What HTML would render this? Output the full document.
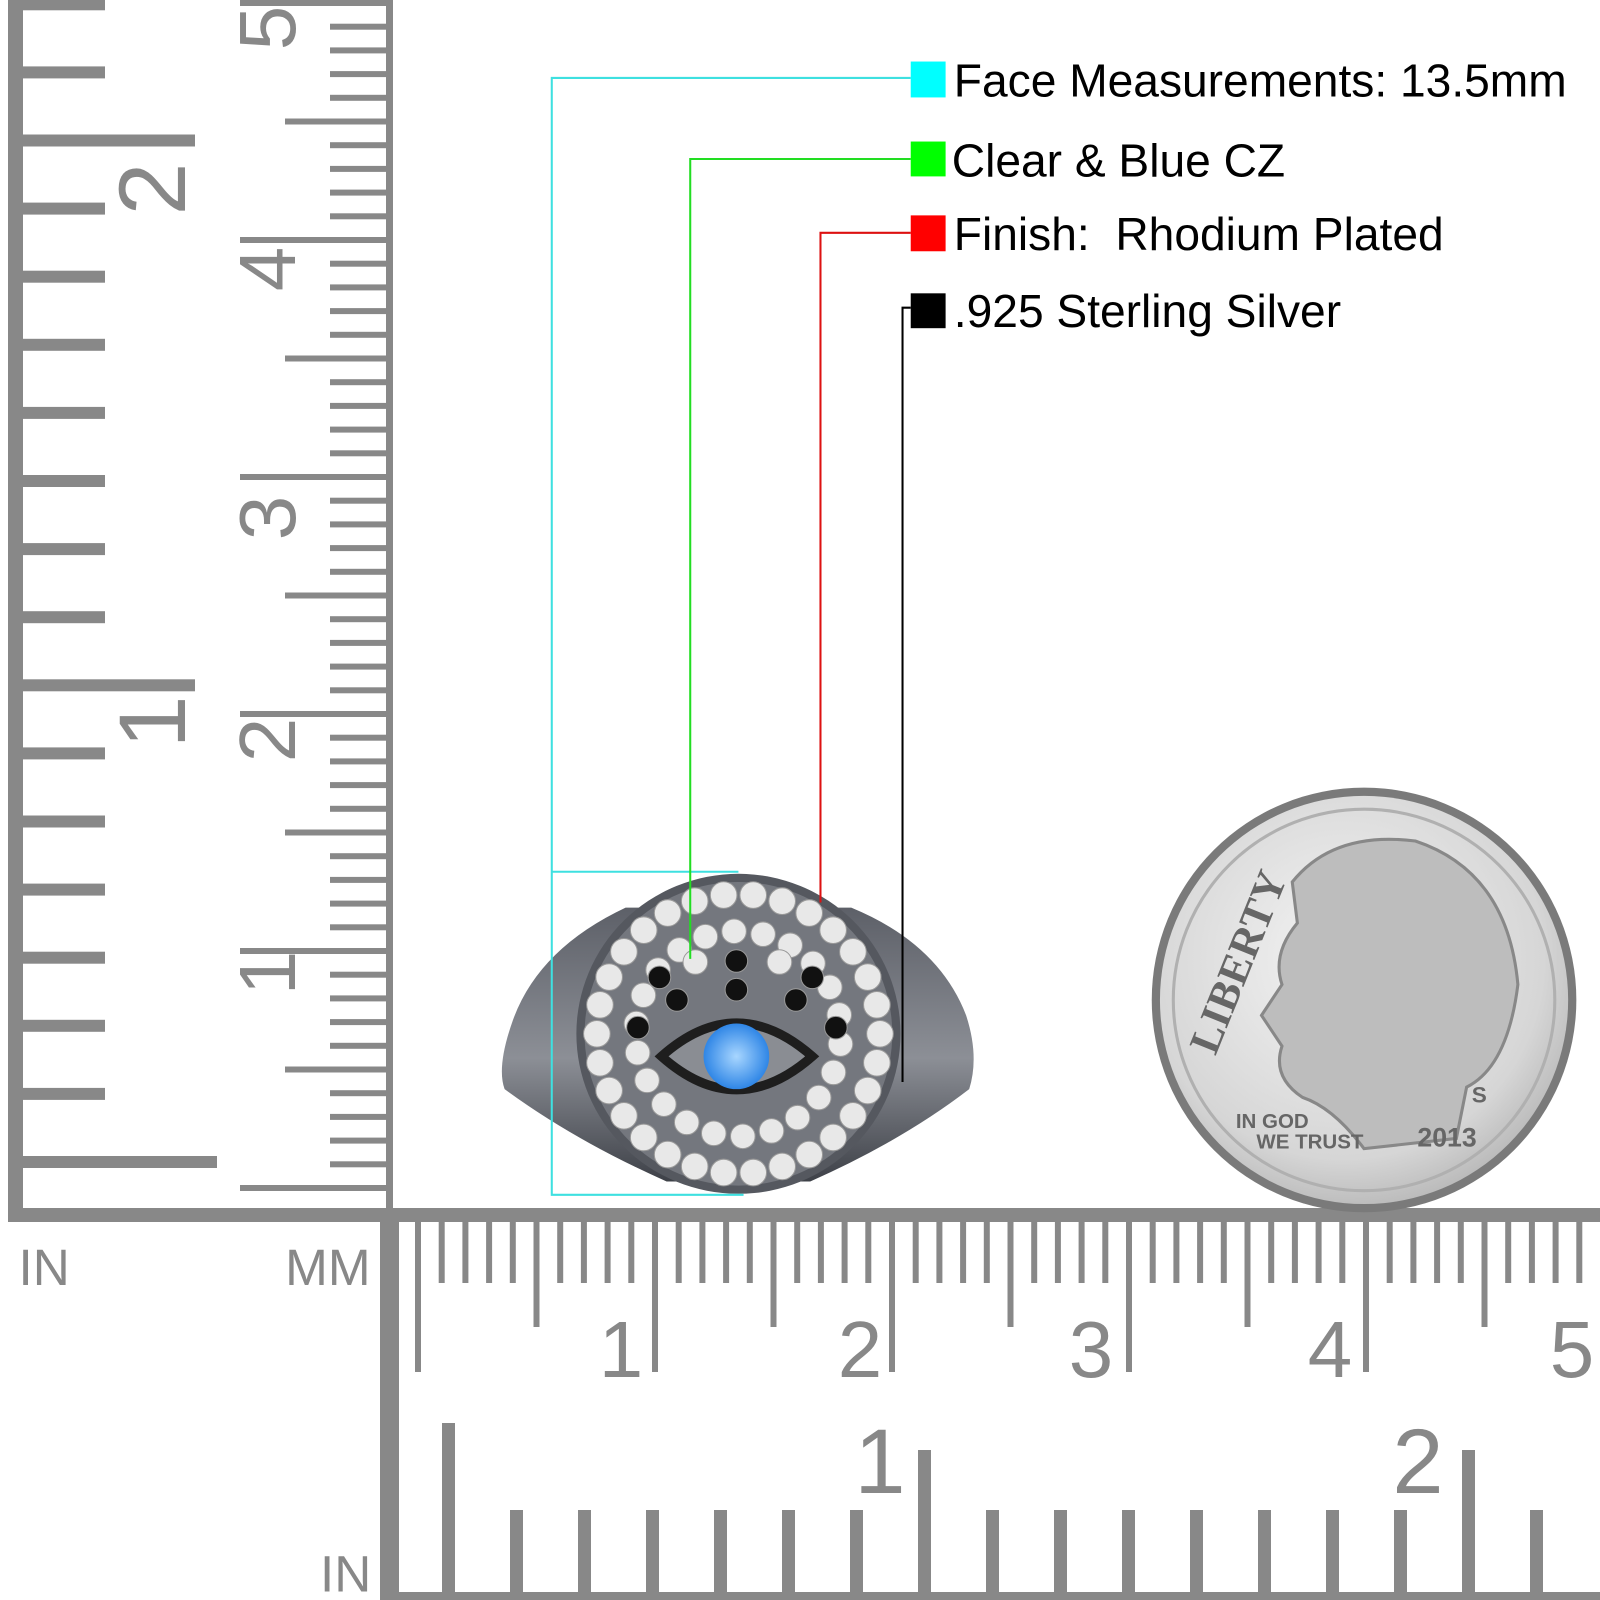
<!DOCTYPE html>
<html><head><meta charset="utf-8"><style>
html,body{margin:0;padding:0;background:#fff;}
svg{display:block}
</style></head><body>
<svg id="s" width="1600" height="1600" viewBox="0 0 1600 1600" xmlns="http://www.w3.org/2000/svg" font-family="Liberation Sans, sans-serif">
<defs>
<radialGradient id="dime" cx="0.45" cy="0.4" r="0.7">
<stop offset="0" stop-color="#f4f4f4"/><stop offset="0.7" stop-color="#d6d6d6"/><stop offset="1" stop-color="#a8a8a8"/>
</radialGradient>
<linearGradient id="band" x1="0" y1="0" x2="0" y2="1">
<stop offset="0" stop-color="#5d6068"/><stop offset="0.55" stop-color="#8c8f96"/><stop offset="1" stop-color="#3e4148"/>
</linearGradient>
<radialGradient id="blue" cx="0.5" cy="0.5" r="0.5">
<stop offset="0" stop-color="#a8d6ff"/><stop offset="1" stop-color="#2f86e6"/>
</radialGradient>
</defs>
<g id="rul" fill="#888"></g>
<g fill="#888" font-size="95" text-anchor="middle">
<text transform="translate(185,189) rotate(-90)">2</text>
<text transform="translate(185,722) rotate(-90)">1</text>
</g>
<g fill="#888" font-size="80" text-anchor="middle">
<text transform="translate(295,28) rotate(-90)">5</text>
<text transform="translate(295,269) rotate(-90)">4</text>
<text transform="translate(295,518) rotate(-90)">3</text>
<text transform="translate(295,740) rotate(-90)">2</text>
<text transform="translate(295,973) rotate(-90)">1</text>
<text x="621" y="1377">1</text><text x="860" y="1377">2</text><text x="1091" y="1377">3</text><text x="1330" y="1377">4</text><text x="1572" y="1377">5</text>
</g>
<g fill="#888" font-size="92" text-anchor="middle">
<text x="880" y="1493">1</text><text x="1418" y="1493">2</text>
</g>
<g transform="scale(1.0256)">
<g fill="#888" font-size="50">
<text x="18" y="1253">IN</text><text x="278" y="1253">MM</text><text x="312" y="1552">IN</text>
</g>
<path d="M610,885 Q525,925 500,995 Q484,1040 492,1062 Q560,1112 650,1152 L790,1152 Q880,1112 945,1062 Q955,1030 942,990 Q915,920 830,885 Z" fill="url(#band)"/>
<ellipse cx="720" cy="1008" rx="158" ry="156" fill="#55585f"/>
<ellipse cx="720" cy="1008" rx="150" ry="148" fill="#74777e"/>
<g id="stones"></g>
<path d="M645,1030 Q718,965 792,1030 Q718,1095 645,1030 Z" fill="#8a8d93" stroke="#1e1e1e" stroke-width="9"/>
<circle cx="718" cy="1030" r="32" fill="url(#blue)"/>
<circle cx="1330" cy="975" r="207" fill="#7a7a7a"/>
<circle cx="1330" cy="975" r="199" fill="url(#dime)"/>
<circle cx="1330" cy="975" r="186" fill="none" stroke="#b0b0b0" stroke-width="3"/>
<path d="M1260,860 Q1300,810 1380,820 Q1470,850 1480,960 Q1470,1040 1430,1060 L1420,1110 L1330,1120 Q1300,1080 1270,1070 Q1240,1050 1250,1020 L1230,990 L1250,960 Q1240,930 1265,900 Z" fill="#bdbdbd" stroke="#888" stroke-width="3"/>
<text transform="translate(1185,1030) rotate(-68)" font-size="42" font-weight="bold" fill="#666" font-family="Liberation Serif, serif">LIBERTY</text>
<text x="1205" y="1100" font-size="20" font-weight="bold" fill="#666">IN GOD</text>
<text x="1225" y="1120" font-size="20" font-weight="bold" fill="#666">WE TRUST</text>
<text x="1382" y="1118" font-size="26" font-weight="bold" fill="#666">2013</text>
<text x="1435" y="1075" font-size="22" font-weight="bold" fill="#666">S</text>
<g fill="none" stroke-width="2">
<polyline points="888,76 538,76 538,1165 725,1165" stroke="#3ee0e0"/>
<polyline points="538,850 720,850" stroke="#3ee0e0"/>
<polyline points="888,155 673,155 673,935" stroke="#22dd22"/>
<polyline points="888,227 800,227 800,880" stroke="#dd1111"/>
<polyline points="888,300 880,300 880,1055" stroke="#000"/>
</g>
<rect x="888" y="60" width="34" height="35" fill="#00ffff"/>
<rect x="888" y="138" width="34" height="34" fill="#00ff00"/>
<rect x="888" y="210" width="34" height="35" fill="#ff0000"/>
<rect x="888" y="286" width="34" height="34" fill="#000"/>
<g font-size="45" fill="#000">
<text x="930" y="94">Face Measurements: 13.5mm</text>
<text x="928" y="172">Clear &amp; Blue CZ</text>
<text x="930" y="244">Finish:&#160; Rhodium Plated</text>
<text x="930" y="319">.925 Sterling Silver</text>
</g>
</g>
</svg>
<script>
var NS="http://www.w3.org/2000/svg",r=document.getElementById('rul'),st=document.getElementById('stones');
function R(x,y,w,h){var e=document.createElementNS(NS,'rect');e.setAttribute('x',x);e.setAttribute('y',y);e.setAttribute('width',w);e.setAttribute('height',h);r.appendChild(e);}
function C(cx,cy,rr,f){var e=document.createElementNS(NS,'circle');e.setAttribute('cx',cx);e.setAttribute('cy',cy);e.setAttribute('r',rr);e.setAttribute('fill',f);e.setAttribute('stroke','#999');e.setAttribute('stroke-width',1);st.appendChild(e);}
R(8,0,15,1222);R(386,0,7,1222);R(8,1208,1592,14);R(380,1208,19,392);R(380,1592,1220,8);
for(var k=0;k<18;k++){var y=1162-k*68.1;if(y<-10)break;var w=85;if(k==0)w=197;if(k==7||k==15)w=175;R(20,y-6,w,12);}
for(var k=0;k<=50;k++){var y=1188-k*23.7;if(y<-3)break;var L=60;if(k%5==0)L=105;if(k%10==0)L=150;R(390-L,y-3,L,6);}
for(var k=0;k<=50;k++){var x=418+k*23.7;if(x>1600)break;var L=63;if(k%5==0)L=107;if(k%10==0)L=152;R(x-3,1220,6,L);}
for(var k=0;k<18;k++){var x=448+k*68;if(x>1602)break;var t=1510;if(k==0)t=1423;if(k==7||k==15)t=1450;R(x-6,t,13,1600-t);}
function ring(rx,ry,n,rr,a0){for(var i=0;i<n;i++){var a=a0+i*2*Math.PI/n;C(720+rx*Math.cos(a),1008+ry*Math.sin(a),rr,'#e8e8e8');}}
ring(138,136,30,13,0);ring(100,100,22,12,0.1);
var bl=[[643,953],[660,975],[718,937],[718,965],[792,953],[776,975],[622,1002],[815,1002]];
bl.forEach(function(p){C(p[0],p[1],11,'#111');});
C(678,938,12,'#e8e8e8');C(760,938,12,'#e8e8e8');
</script>
</body></html>
